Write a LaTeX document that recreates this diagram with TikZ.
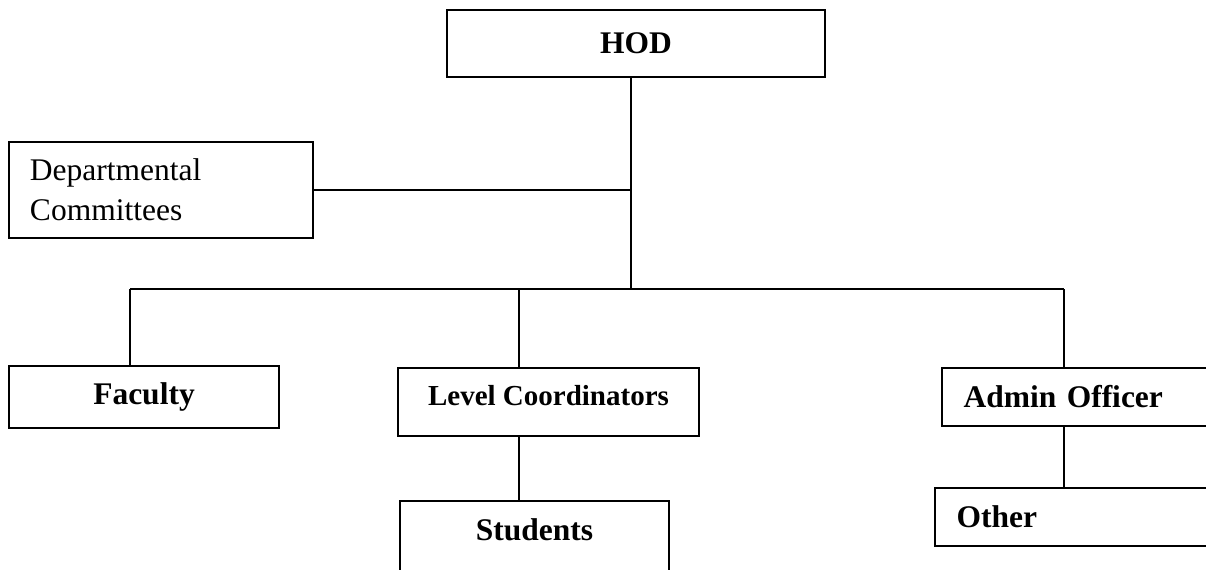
\documentclass[tikz,border=0pt]{standalone}
\usepackage{fontspec}
\setmainfont{Liberation Serif}

\begin{document}
\begin{tikzpicture}[x=0.5pt,y=-0.5pt,
	box/.style={draw, line width=1pt, inner sep=0pt, font=\fontsize{15.75}{20}\selectfont\bfseries},
	leftbox/.style={box, align=left, inner xsep=10.75pt}]
	\clip (0,0) rectangle (1206,569);
	\node[box, minimum width=189pt, minimum height=33.5pt] (hod) at (636,43.5) {HOD};
	\node[leftbox, text width=130.5pt, minimum height=48pt, font=\fontsize{15.75}{20}\selectfont\mdseries] (dept) at (160.5,190) {Departmental\\Committees};
	\node[box, minimum width=135pt, minimum height=31pt] (faculty) at (144,397) {Faculty};
	\node[box, minimum width=150.5pt, minimum height=34pt, text depth=7pt, font=\fontsize{14.5}{18}\selectfont\bfseries] (level) at (548.5,402) {Level Coordinators};
	\node[box, minimum width=134.5pt, minimum height=36pt, text depth=7pt, anchor=north] (students) at (534.5,500) {Students};
	\node[leftbox, text width=115.5pt, minimum height=29pt, anchor=west] (admin) at (941,397) {Admin Officer};
	\node[leftbox, text width=116.5pt, minimum height=29pt, anchor=west] (other) at (934,517) {Other};
	\coordinate (bar) at (631,289);
	\coordinate (fdrop) at (130,289);
	\coordinate (ldrop) at (519,289);
	\coordinate (adrop) at (1064,289);
	\begin{scope}[line width=1pt]
		\draw (hod.south -| bar) -- (bar);
		\draw (dept.east) -- (dept.east -| bar);
		\draw (fdrop) -- (adrop);
		\draw (fdrop) -- (fdrop |- faculty.north);
		\draw (ldrop) -- (ldrop |- level.north);
		\draw (adrop) -- (adrop |- admin.north);
		\draw (level.south -| ldrop) -- (ldrop |- students.north);
		\draw (admin.south -| adrop) -- (adrop |- other.north);
	\end{scope}
\end{tikzpicture}
\end{document}
